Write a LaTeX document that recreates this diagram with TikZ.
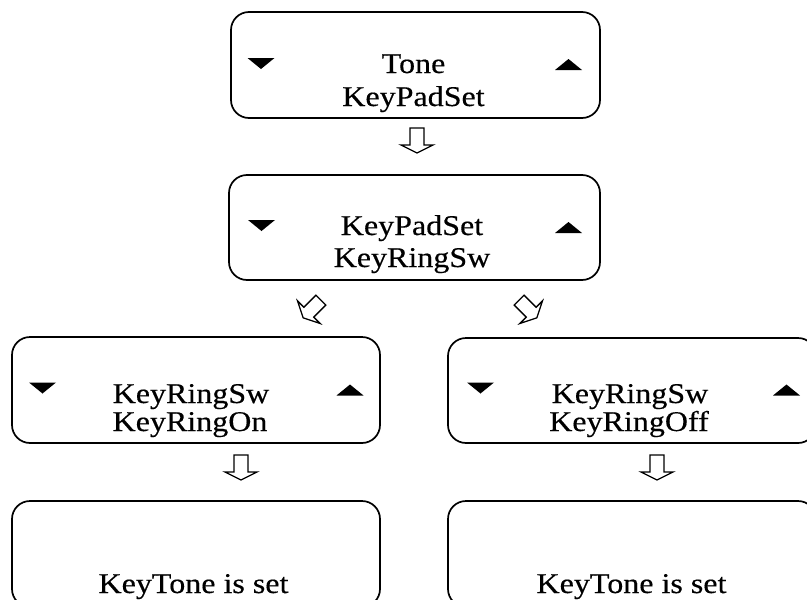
\documentclass[tikz,border=0pt]{standalone}
\usepackage{fontspec}
\setmainfont{Liberation Serif}[FakeStretch=1.12,FakeBold=0.4]
\begin{document}
\begin{tikzpicture}[x=1pt,y=1pt,
  box/.style={draw, line width=1.7pt, rounded corners=18pt, minimum width=368pt, minimum height=106pt, inner sep=0pt},
  lbl/.style={anchor=base, inner sep=0pt, font=\fontsize{28.6}{33}\selectfont},
  blockarrow/.pic={\draw[line width=1.3pt, line join=miter, fill=white] (-7,12.5) -- (7,12.5) -- (7,-4.5) -- (16,-4.5) -- (0,-12.5) -- (-16,-4.5) -- (-7,-4.5) -- cycle;},
  downtri/.pic={\fill (-13.5,5.5) -- (13.5,5.5) -- (0,-5.5) -- cycle;},
  uptri/.pic={\fill (-13.5,-5.5) -- (13.5,-5.5) -- (0,5.5) -- cycle;}
]
\useasboundingbox (0,0) rectangle (807,-600);
\clip (0,0) rectangle (807,-600);

% boxes
\node[box, minimum width=369pt] (tone) at (415.5,-65) {};
\node[box, minimum width=371pt, minimum height=105pt] (pad) at (414.5,-227.5) {};
\node[box] (ron) at (196,-390) {};
\node[box, minimum height=105pt] (roff) at (632,-390.5) {};
\node[box] (setl) at (196,-554) {};
\node[box] (setr) at (632,-554) {};

% texts
\node[lbl] (t1) at (413.5,-73) {Tone};
\node[lbl] (t2) at (413.5,-106) {KeyPadSet};
\node[lbl] (p1) at (412,-235) {KeyPadSet};
\node[lbl] (p2) at (412,-267) {KeyRingSw};
\node[lbl] (l1) at (191,-403) {KeyRingSw};
\node[lbl] (l2) at (190,-431) {KeyRingOn};
\node[lbl] (r1) at (630,-403) {KeyRingSw};
\node[lbl] (r2) at (629,-431) {KeyRingOff};
\node[lbl] (s1) at (193.5,-593) {KeyTone is set};
\node[lbl] (s2) at (631.5,-593) {KeyTone is set};

% triangles
\pic at (261,-63.5) {downtri};
\pic at (568.5,-64.5) {uptri};
\pic at (261.5,-225.5) {downtri};
\pic at (568.5,-227.5) {uptri};
\pic at (42.5,-388) {downtri};
\pic at (350,-390) {uptri};
\pic at (480.5,-388) {downtri};
\pic at (786.5,-390) {uptri};

% block arrows
\pic at (417,-140.5) {blockarrow};
\pic[rotate=-45] at (312,-309) {blockarrow};
\pic[rotate=45] at (528,-309) {blockarrow};
\pic at (241,-467.5) {blockarrow};
\pic at (657,-467.5) {blockarrow};
\end{tikzpicture}
\end{document}
